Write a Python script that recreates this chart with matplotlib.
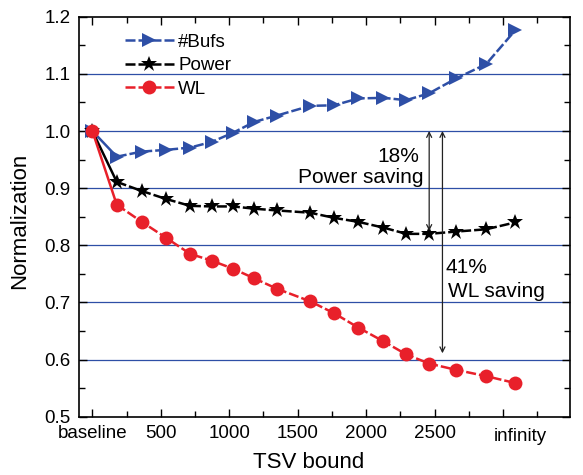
import matplotlib
matplotlib.use("Agg")
import matplotlib.pyplot as plt
from matplotlib.ticker import MultipleLocator, FixedLocator, FixedFormatter
import matplotlib.transforms as mtransforms

plt.rcParams['font.family'] = ['Liberation Sans', 'DejaVu Sans']

# ---- data ----
tsv_bound = [0, 178, 361, 539, 714, 873, 1028, 1184, 1348, 1591, 1767, 1943,
             2126, 2294, 2461, 2658, 2877, 3089]
bufs = [1.0, 0.955, 0.964, 0.967, 0.971, 0.981, 0.997, 1.016, 1.027, 1.044,
        1.045, 1.057, 1.058, 1.054, 1.066, 1.092, 1.117, 1.176]
power = [1.0, 0.911, 0.895, 0.881, 0.869, 0.868, 0.868, 0.864, 0.861, 0.857,
         0.848, 0.841, 0.831, 0.820, 0.820, 0.824, 0.828, 0.840]
wl = [1.0, 0.871, 0.841, 0.813, 0.785, 0.773, 0.759, 0.742, 0.724, 0.702,
      0.681, 0.656, 0.632, 0.609, 0.593, 0.582, 0.571, 0.559]

xtick_pos = [0, 500, 1000, 1500, 2000, 2500, 3000]
xtick_labels = ["baseline", "500", "1000", "1500", "2000", "2500", ""]
infinity_pos = 3130
ytick_pos = [0.5, 0.6, 0.7, 0.8, 0.9, 1.0, 1.1, 1.2]
grid_y = [0.6, 0.7, 0.8, 0.9, 1.0, 1.1]

power_arrow_x = 2461
power_arrow_y = (1.0, 0.825)
wl_arrow_x = 2558
wl_arrow_y = (1.0, 0.611)

blue = "#2e4fa6"
red = "#e8202a"

fig = plt.figure(figsize=(5.83, 4.75), dpi=100)
ax = fig.add_axes([0.135, 0.1227, 0.8427, 0.8421])

for gy in grid_y:
    ax.axhline(gy, color=blue, lw=0.9, zorder=1)

dash = (0, (4, 1.2))
series = [
    (bufs, blue, '>', 10, "#Bufs"),
    (power, 'black', '*', 12, "Power"),
    (wl, red, 'o', 10, "WL"),
]
handles = []
for ys, c, m, ms, lab in series:
    ax.plot(tsv_bound[:2], ys[:2], color=c, lw=1.8, ls='-', zorder=3)
    h, = ax.plot(tsv_bound[1:], ys[1:], color=c, lw=1.8, ls=dash, marker=m,
                 ms=ms, markeredgewidth=0, zorder=3, label=lab)
    ax.plot(tsv_bound[:1], ys[:1], color=c, marker=m, ms=ms,
            markeredgewidth=0, zorder=3, ls='none')
    handles.append(h)

ax.set_xlim(-100, 3490)
ax.set_ylim(0.5, 1.2)

ax.xaxis.set_major_locator(FixedLocator(xtick_pos))
ax.xaxis.set_major_formatter(FixedFormatter(xtick_labels))
ax.xaxis.set_minor_locator(MultipleLocator(250))
ax.yaxis.set_major_locator(FixedLocator(ytick_pos))
ax.yaxis.set_minor_locator(MultipleLocator(0.05))
ax.set_yticklabels([f"{v:.1f}" for v in ytick_pos])

ax.tick_params(which='both', direction='in', top=True, right=True,
               labelsize=13.5, width=1.0)
ax.tick_params(which='major', length=6, pad=6)
ax.tick_params(which='minor', length=4)
for s in ax.spines.values():
    s.set_linewidth(1.2)

trans = mtransforms.blended_transform_factory(ax.transData, ax.transAxes)
ax.text(infinity_pos, 0, "infinity",
        transform=trans + mtransforms.ScaledTranslation(0, -8/72, fig.dpi_scale_trans),
        ha='center', va='top', fontsize=13.5)

ax.set_xlabel("TSV bound", fontsize=16)
ax.set_ylabel("Normalization", fontsize=16)
ax.xaxis.set_label_coords(0.469, -0.088)
ax.yaxis.set_label_coords(-0.098, 0.49)

# arrows
ax.annotate("", xy=(power_arrow_x, power_arrow_y[0]), xytext=(power_arrow_x, power_arrow_y[1]),
            arrowprops=dict(arrowstyle='<->', color='#222222', lw=0.9,
                            shrinkA=0, shrinkB=0, mutation_scale=9), zorder=4)
ax.annotate("", xy=(wl_arrow_x, wl_arrow_y[0]), xytext=(wl_arrow_x, wl_arrow_y[1]),
            arrowprops=dict(arrowstyle='<->', color='#222222', lw=0.9,
                            shrinkA=0, shrinkB=0, mutation_scale=9), zorder=4)

ax.text(2235, 0.956, "18%", ha='center', va='center', fontsize=15)
ax.text(2421, 0.919, "Power saving", ha='right', va='center', fontsize=15)
ax.text(2583, 0.762, "41%", ha='left', va='center', fontsize=15)
ax.text(2600, 0.720, "WL saving", ha='left', va='center', fontsize=15)

leg = ax.legend(handles=handles, loc='upper left', bbox_to_anchor=(0.094, 0.957),
                frameon=False, fontsize=13.5, handlelength=2.6, handletextpad=0.25,
                labelspacing=0.33, borderpad=0, borderaxespad=0)

fig.savefig("out.png", dpi=100)
